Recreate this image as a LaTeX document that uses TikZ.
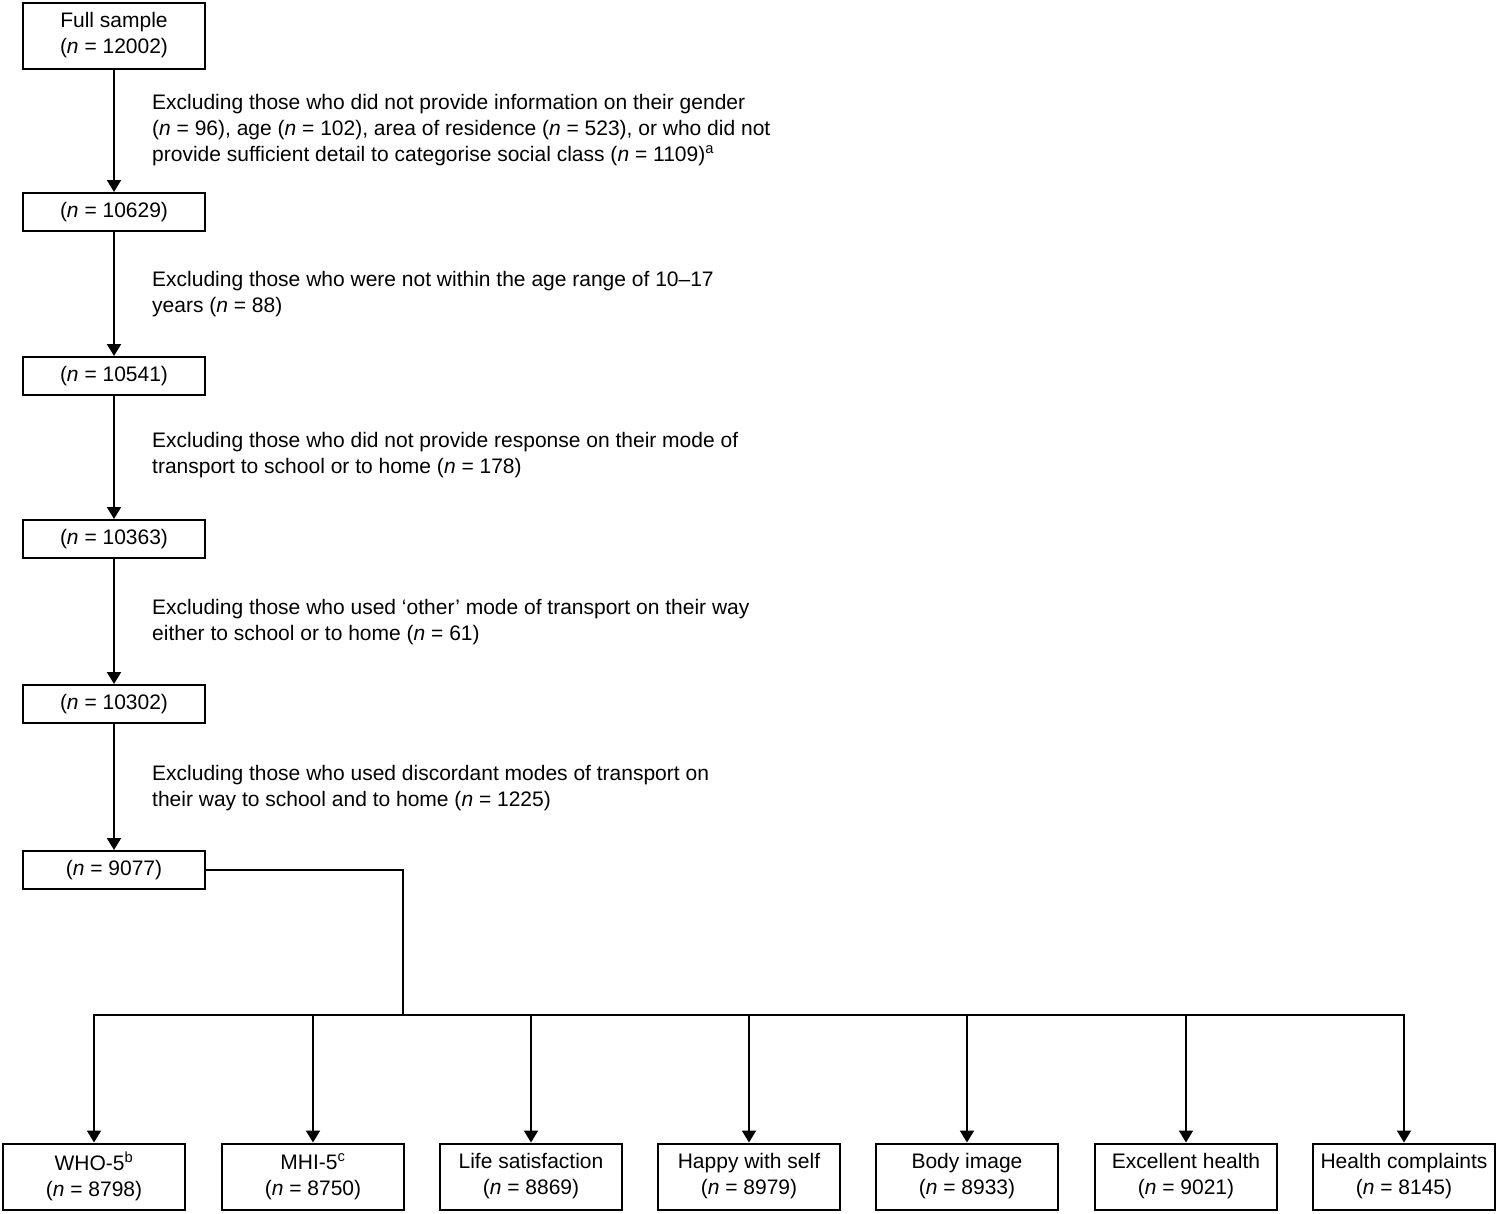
\documentclass[tikz,border=0pt]{standalone}
\usepackage{fontspec}
\setmainfont{Liberation Sans}
\usetikzlibrary{arrows.meta}
\newcommand{\nn}{\textit{n}}
\begin{document}
\begin{tikzpicture}[x=1pt,y=1pt,
  every node/.style={font=\fontsize{21}{26}\selectfont},
  box/.style={draw,line width=2pt,minimum width=182pt,inner sep=0pt,align=center},
  onebox/.style={box,minimum height=38pt},
  twobox/.style={box,minimum height=66pt},
  note/.style={anchor=west,align=left,inner sep=0pt},
  link/.style={line width=2pt},
  arr/.style={line width=2pt,-{Triangle[width=14pt,length=12pt]}}]
\useasboundingbox (0,0) rectangle (1499,-1213);
% main column
\node[twobox] (b0) at (114,-35.5) {Full sample\\(\nn{} = 12002)};
\node[onebox] (b1) at (114,-212) {(\nn{} = 10629)};
\node[onebox] (b2) at (114,-376) {(\nn{} = 10541)};
\node[onebox] (b3) at (114,-539) {(\nn{} = 10363)};
\node[onebox] (b4) at (114,-704) {(\nn{} = 10302)};
\node[onebox] (b5) at (114,-870) {(\nn{} = 9077)};
% exclusion notes
\node[note] (t1) at (152,-130) {Excluding those who did not provide information on their gender\\(\nn{} = 96), age (\nn{} = 102), area of residence (\nn{} = 523), or who did not\\provide sufficient detail to categorise social class (\nn{} = 1109)\textsuperscript{a}};
\node[note] (t2) at (152,-294) {Excluding those who were not within the age range of 10--17\\years (\nn{} = 88)};
\node[note] (t3) at (152,-455) {Excluding those who did not provide response on their mode of\\transport to school or to home (\nn{} = 178)};
\node[note] (t4) at (152,-622) {Excluding those who used ‘other’ mode of transport on their way\\either to school or to home (\nn{} = 61)};
\node[note] (t5) at (152,-788) {Excluding those who used discordant modes of transport on\\their way to school and to home (\nn{} = 1225)};
\draw[arr] (b0.south) -- (b1.north);
\draw[arr] (b1.south) -- (b2.north);
\draw[arr] (b2.south) -- (b3.north);
\draw[arr] (b3.south) -- (b4.north);
\draw[arr] (b4.south) -- (b5.north);
% outcome boxes
\node[twobox] (o1) at (94,-1176.5) {WHO-5\textsuperscript{b}\\(\nn{} = 8798)};
\node[twobox] (o2) at (313,-1176.5) {MHI-5\textsuperscript{c}\\(\nn{} = 8750)};
\node[twobox] (o3) at (531,-1176.5) {Life satisfaction\\(\nn{} = 8869)};
\node[twobox] (o4) at (749,-1176.5) {Happy with self\\(\nn{} = 8979)};
\node[twobox] (o5) at (967,-1176.5) {Body image\\(\nn{} = 8933)};
\node[twobox] (o6) at (1186,-1176.5) {Excellent health\\(\nn{} = 9021)};
\node[twobox] (o7) at (1404,-1176.5) {Health complaints\\(\nn{} = 8145)};
% bus
\coordinate (bus) at (403,-1015);
\coordinate (j1) at (94,-1015);
\coordinate (j2) at (313,-1015);
\coordinate (j3) at (531,-1015);
\coordinate (j4) at (749,-1015);
\coordinate (j5) at (967,-1015);
\coordinate (j6) at (1186,-1015);
\coordinate (j7) at (1404,-1015);
\draw[link] (b5.east) -| (bus);
\draw[link,line cap=rect] (j1) -- (j7);
\draw[arr] (j1) -- (o1.north);
\draw[arr] (j2) -- (o2.north);
\draw[arr] (j3) -- (o3.north);
\draw[arr] (j4) -- (o4.north);
\draw[arr] (j5) -- (o5.north);
\draw[arr] (j6) -- (o6.north);
\draw[arr] (j7) -- (o7.north);
\end{tikzpicture}
\end{document}
